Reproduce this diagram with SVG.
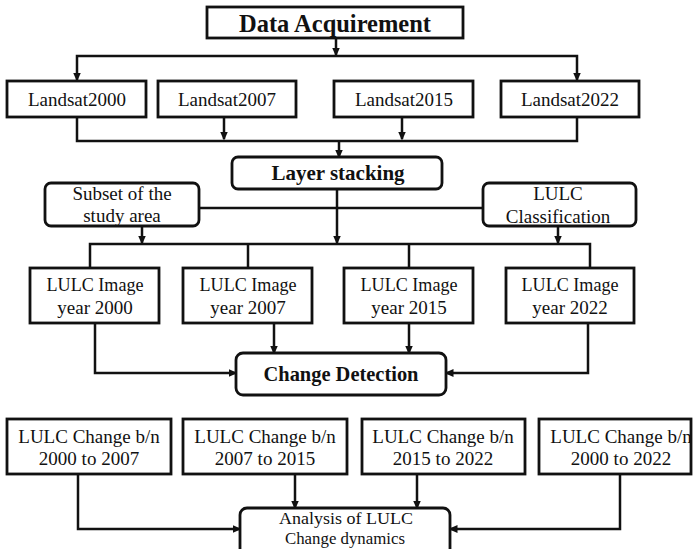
<svg xmlns="http://www.w3.org/2000/svg" width="693" height="549" viewBox="0 0 693 549">
<style>
.box{fill:#fff;stroke:#111;stroke-width:2.8}
.ln{fill:none;stroke:#111;stroke-width:2.5}
.arr{marker-end:url(#ah)}
text{font-family:"Liberation Serif","Times New Roman",serif;fill:#111;text-anchor:middle}
.t{font-size:19px}
.s{font-size:17.5px}
.b{font-weight:bold;font-size:21px}
</style>
<defs>
<marker id="ah" markerUnits="userSpaceOnUse" markerWidth="9" markerHeight="8" refX="7.5" refY="4" orient="auto">
<path d="M0,0 L9,4 L0,8 z" fill="#111"/>
</marker>
</defs>
<g id="connectors">
<path class="ln arr" d="M336,38 V55"/>
<path class="ln arr" d="M336,56 H77 V80"/>
<path class="ln arr" d="M336,56 H577 V80"/>
<path class="ln" d="M77,117 V141 H577 V117"/>
<path class="ln arr" d="M224,117 V139"/>
<path class="ln arr" d="M402,117 V139"/>
<path class="ln arr" d="M339,141 V157"/>
<path class="ln" d="M199,208 H483"/>
<path class="ln arr" d="M337,189 V243"/>
<path class="ln arr" d="M142,226 V243"/>
<path class="ln arr" d="M558,226 V243"/>
<path class="ln" d="M90,268 V244 H590 V268"/>
<path class="ln" d="M248,244 V268"/>
<path class="ln" d="M409,244 V268"/>
<path class="ln arr" d="M95,323 V373 H236"/>
<path class="ln arr" d="M274,323 V353"/>
<path class="ln arr" d="M409,323 V353"/>
<path class="ln arr" d="M588,323 V373 H446"/>
<path class="ln arr" d="M78,474 V529 H240"/>
<path class="ln arr" d="M295,474 V508"/>
<path class="ln arr" d="M417,474 V508"/>
<path class="ln arr" d="M620,474 V529 H450"/>
</g>
<g id="data-acquirement">
<rect class="box" x="207" y="7" width="256" height="31"/>
<text class="b" x="335" y="32" style="font-size:25px" textLength="192" lengthAdjust="spacingAndGlyphs">Data Acquirement</text>
</g>
<g id="landsat2000"><rect class="box" x="7" y="81" width="139" height="36"/><text class="t" x="77" y="106">Landsat2000</text></g>
<g id="landsat2007"><rect class="box" x="158" y="81" width="138" height="36"/><text class="t" x="227" y="106">Landsat2007</text></g>
<g id="landsat2015"><rect class="box" x="334" y="81" width="139" height="36"/><text class="t" x="404" y="106">Landsat2015</text></g>
<g id="landsat2022"><rect class="box" x="501" y="81" width="138" height="36"/><text class="t" x="570" y="106">Landsat2022</text></g>
<g id="layer-stacking">
<rect class="box" x="232" y="157" width="210" height="32" rx="6"/>
<text class="b" x="338" y="180">Layer stacking</text>
</g>
<g id="subset">
<rect class="box" x="45" y="183" width="154" height="43" rx="6"/>
<text class="t" x="122" y="200">Subset of the</text>
<text class="t" x="122" y="222">study area</text>
</g>
<g id="lulc-classification">
<rect class="box" x="483" y="183" width="153" height="43" rx="6"/>
<text class="t" x="558" y="200">LULC</text>
<text class="t" x="558" y="223">Classification</text>
</g>
<g id="img2000"><rect class="box" x="30" y="268" width="129" height="55"/><text class="t" x="95" y="291" textLength="97" lengthAdjust="spacingAndGlyphs">LULC Image</text><text class="t" x="95" y="314">year 2000</text></g>
<g id="img2007"><rect class="box" x="183" y="268" width="129" height="55"/><text class="t" x="248" y="291" textLength="97" lengthAdjust="spacingAndGlyphs">LULC Image</text><text class="t" x="248" y="314">year 2007</text></g>
<g id="img2015"><rect class="box" x="344" y="268" width="129" height="55"/><text class="t" x="409" y="291" textLength="97" lengthAdjust="spacingAndGlyphs">LULC Image</text><text class="t" x="409" y="314">year 2015</text></g>
<g id="img2022"><rect class="box" x="506" y="268" width="128" height="55"/><text class="t" x="570" y="291" textLength="97" lengthAdjust="spacingAndGlyphs">LULC Image</text><text class="t" x="570" y="314">year 2022</text></g>
<g id="change-detection">
<rect class="box" x="236" y="353" width="210" height="42" rx="7"/>
<text class="b" x="341" y="381" textLength="155" lengthAdjust="spacingAndGlyphs">Change Detection</text>
</g>
<g id="chg1"><rect class="box" x="7" y="419" width="164" height="55"/><text class="t" x="89" y="443">LULC Change b/n</text><text class="t" x="89" y="465">2000 to 2007</text></g>
<g id="chg2"><rect class="box" x="183" y="419" width="164" height="55"/><text class="t" x="265" y="443">LULC Change b/n</text><text class="t" x="265" y="465">2007 to 2015</text></g>
<g id="chg3"><rect class="box" x="362" y="419" width="163" height="55"/><text class="t" x="443" y="443">LULC Change b/n</text><text class="t" x="443" y="465">2015 to 2022</text></g>
<g id="chg4"><rect class="box" x="539" y="419" width="152" height="55"/><text class="t" x="621" y="443">LULC Change b/n</text><text class="t" x="621" y="465">2000 to 2022</text></g>
<g id="analysis">
<rect class="box" x="240" y="508" width="210" height="52" rx="7"/>
<text class="s" x="346" y="524" textLength="134" lengthAdjust="spacingAndGlyphs">Analysis of LULC</text>
<text class="s" x="345" y="544" textLength="120" lengthAdjust="spacingAndGlyphs">Change dynamics</text>
</g>
</svg>
